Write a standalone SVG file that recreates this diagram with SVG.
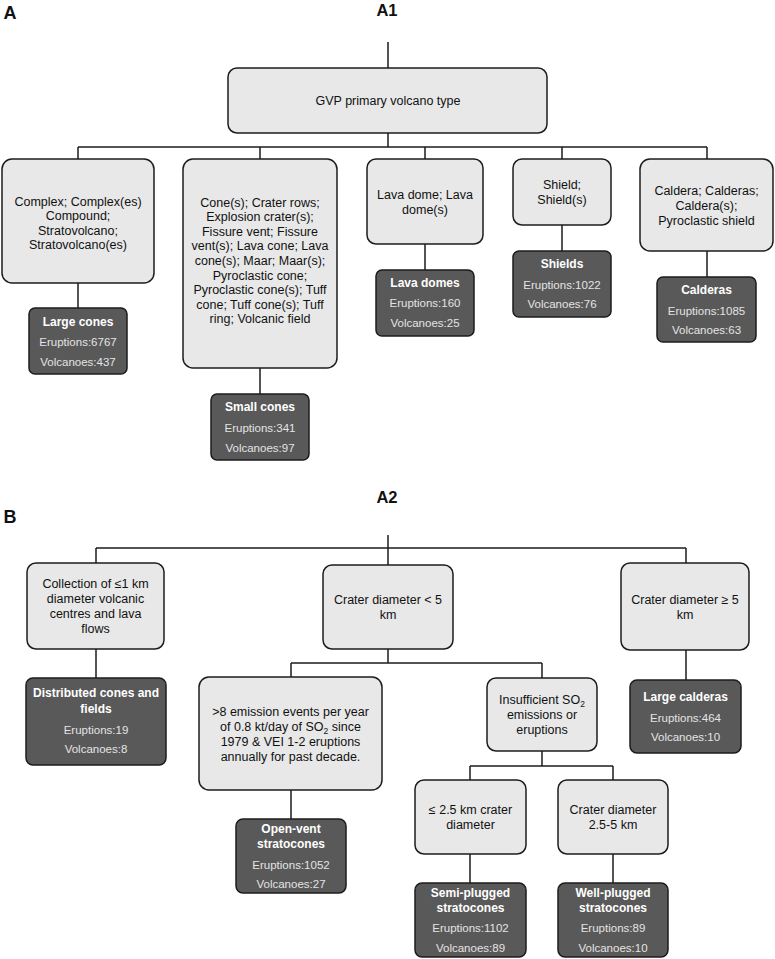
<svg xmlns="http://www.w3.org/2000/svg" width="775" height="959" viewBox="0 0 775 959">
<style>
.bg{fill:#ffffff}
.lb{fill:#e8e8e8;stroke:#1c1c1c;stroke-width:1.5}
.db{fill:#595959;stroke:#1c1c1c;stroke-width:1.5}
.lt{font-family:"Liberation Sans",Arial,sans-serif;font-size:12.5px;fill:#111;text-anchor:middle}
.tt{font-family:"Liberation Sans",Arial,sans-serif;font-size:12px;font-weight:bold;fill:#ffffff;text-anchor:middle}
.nt{font-family:"Liberation Sans",Arial,sans-serif;font-size:11.5px;fill:#e4e4e4;text-anchor:middle}
.hd{font-family:"Liberation Sans",Arial,sans-serif;font-weight:bold;fill:#111;text-anchor:middle}
.cn{stroke:#1c1c1c;stroke-width:1.5;fill:none}
</style>
<rect class="bg" x="0" y="0" width="775" height="959"/>
<g id="headers">
<text class="hd" x="10" y="19" font-size="18">A</text>
<text class="hd" x="387" y="16" font-size="16.5">A1</text>
<text class="hd" x="10" y="523" font-size="18">B</text>
<text class="hd" x="387" y="503" font-size="16.5">A2</text>
</g>
<g id="connectors">
<path class="cn" d="M388,42V68 M388,133V147 M78,147H707 M78,147V159 M260,147V159 M425,147V159 M562,147V159 M707,147V159"/>
<path class="cn" d="M78,283V308 M260,368V394 M425,244V270 M562,225V251 M707,251V277"/>
<path class="cn" d="M388,535V565 M96,548H686 M96,548V563 M686,548V563 M96,649V678 M686,650V680"/>
<path class="cn" d="M388,649V663 M291,663H542 M291,663V677 M542,663V678 M291,790V819"/>
<path class="cn" d="M542,751V766 M470,766H613 M470,766V780 M613,766V780 M470,854V883 M613,854V883"/>
</g>
<g id="root">
<rect class="lb" x="228" y="68" width="319" height="65" rx="9"/>
<text class="lt" x="388" y="104.5">GVP primary volcano type</text>
</g>
<g id="n-complex">
<rect class="lb" x="2" y="159" width="152" height="124" rx="10"/>
<text class="lt" x="78" y="205.5">Complex; Complex(es)</text>
<text class="lt" x="78" y="220">Compound;</text>
<text class="lt" x="78" y="234.5">Stratovolcano;</text>
<text class="lt" x="78" y="249">Stratovolcano(es)</text>
</g>
<g id="n-cone">
<rect class="lb" x="183" y="159" width="154" height="209" rx="10"/>
<text class="lt" x="260" y="206.5">Cone(s); Crater rows;</text>
<text class="lt" x="260" y="221.1">Explosion crater(s);</text>
<text class="lt" x="260" y="235.7">Fissure vent; Fissure</text>
<text class="lt" x="260" y="250.3">vent(s); Lava cone; Lava</text>
<text class="lt" x="260" y="264.9">cone(s); Maar; Maar(s);</text>
<text class="lt" x="260" y="279.5">Pyroclastic cone;</text>
<text class="lt" x="260" y="294.1">Pyroclastic cone(s); Tuff</text>
<text class="lt" x="260" y="308.7">cone; Tuff cone(s); Tuff</text>
<text class="lt" x="260" y="323.3">ring; Volcanic field</text>
</g>
<g id="n-lavadome">
<rect class="lb" x="367" y="159" width="116" height="85" rx="9"/>
<text class="lt" x="425" y="198.5">Lava dome; Lava</text>
<text class="lt" x="425" y="213.5">dome(s)</text>
</g>
<g id="n-shield">
<rect class="lb" x="513" y="159" width="98" height="66" rx="9"/>
<text class="lt" x="562" y="188.5">Shield;</text>
<text class="lt" x="562" y="203.5">Shield(s)</text>
</g>
<g id="n-caldera">
<rect class="lb" x="640" y="159" width="133" height="92" rx="10"/>
<text class="lt" x="706.5" y="194.5">Caldera; Calderas;</text>
<text class="lt" x="706.5" y="209.5">Caldera(s);</text>
<text class="lt" x="706.5" y="224.5">Pyroclastic shield</text>
</g>
<g id="r-largecones">
<rect class="db" x="29" y="308" width="98" height="66" rx="6"/>
<text class="tt" x="78" y="326.3">Large cones</text>
<text class="nt" x="78" y="346">Eruptions:6767</text>
<text class="nt" x="78" y="366">Volcanoes:437</text>
</g>
<g id="r-smallcones">
<rect class="db" x="211" y="394" width="98" height="66" rx="6"/>
<text class="tt" x="260" y="411.3">Small cones</text>
<text class="nt" x="260" y="432">Eruptions:341</text>
<text class="nt" x="260" y="452">Volcanoes:97</text>
</g>
<g id="r-lavadomes">
<rect class="db" x="376" y="270" width="98" height="66" rx="6"/>
<text class="tt" x="425" y="287.3">Lava domes</text>
<text class="nt" x="425" y="307">Eruptions:160</text>
<text class="nt" x="425" y="327">Volcanoes:25</text>
</g>
<g id="r-shields">
<rect class="db" x="513" y="251" width="98" height="66" rx="6"/>
<text class="tt" x="562" y="268.3">Shields</text>
<text class="nt" x="562" y="289">Eruptions:1022</text>
<text class="nt" x="562" y="308">Volcanoes:76</text>
</g>
<g id="r-calderas">
<rect class="db" x="657" y="277" width="99" height="65" rx="6"/>
<text class="tt" x="706.5" y="294.3">Calderas</text>
<text class="nt" x="706.5" y="315">Eruptions:1085</text>
<text class="nt" x="706.5" y="334">Volcanoes:63</text>
</g>
<g id="n-collection">
<rect class="lb" x="27" y="563" width="137" height="86" rx="9"/>
<text class="lt" x="95.5" y="587.5">Collection of ≤1 km</text>
<text class="lt" x="95.5" y="602.5">diameter volcanic</text>
<text class="lt" x="95.5" y="617.5">centres and lava</text>
<text class="lt" x="95.5" y="632.5">flows</text>
</g>
<g id="r-distributed">
<rect class="db" x="26" y="678" width="140" height="87" rx="7"/>
<text class="tt" x="96" y="697.3">Distributed cones and</text>
<text class="tt" x="96" y="713.3">fields</text>
<text class="nt" x="96" y="734">Eruptions:19</text>
<text class="nt" x="96" y="753">Volcanoes:8</text>
</g>
<g id="n-crater-lt5">
<rect class="lb" x="323" y="565" width="130" height="84" rx="9"/>
<text class="lt" x="388" y="604">Crater diameter &lt; 5</text>
<text class="lt" x="388" y="619">km</text>
</g>
<g id="n-crater-ge5">
<rect class="lb" x="621" y="563" width="128" height="87" rx="9"/>
<text class="lt" x="685" y="603.5">Crater diameter ≥ 5</text>
<text class="lt" x="685" y="618.5">km</text>
</g>
<g id="r-largecalderas">
<rect class="db" x="630" y="680" width="111" height="73" rx="7"/>
<text class="tt" x="685.5" y="701.3">Large calderas</text>
<text class="nt" x="685.5" y="722">Eruptions:464</text>
<text class="nt" x="685.5" y="741">Volcanoes:10</text>
</g>
<g id="n-emission">
<rect class="lb" x="199" y="677" width="183" height="113" rx="10"/>
<text class="lt" x="290.5" y="716">&gt;8 emission events per year</text>
<text class="lt" x="290.5" y="731">of 0.8 kt/day of SO<tspan font-size="8.5" dy="3">2</tspan><tspan dy="-3"> since</tspan></text>
<text class="lt" x="290.5" y="746">1979 &amp; VEI 1-2 eruptions</text>
<text class="lt" x="290.5" y="761">annually for past decade.</text>
</g>
<g id="r-openvent">
<rect class="db" x="236" y="819" width="110" height="74" rx="7"/>
<text class="tt" x="291" y="833.3">Open-vent</text>
<text class="tt" x="291" y="848.3">stratocones</text>
<text class="nt" x="291" y="869">Eruptions:1052</text>
<text class="nt" x="291" y="888">Volcanoes:27</text>
</g>
<g id="n-insufficient">
<rect class="lb" x="487" y="678" width="110" height="73" rx="9"/>
<text class="lt" x="542" y="703.5">Insufficient SO<tspan font-size="8.5" dy="3">2</tspan></text>
<text class="lt" x="542" y="718.5">emissions or</text>
<text class="lt" x="542" y="733.5">eruptions</text>
</g>
<g id="n-le25">
<rect class="lb" x="415" y="780" width="111" height="74" rx="9"/>
<text class="lt" x="470.5" y="813.5">≤ 2.5 km crater</text>
<text class="lt" x="470.5" y="828.5">diameter</text>
</g>
<g id="n-25-5">
<rect class="lb" x="558" y="780" width="110" height="74" rx="9"/>
<text class="lt" x="613" y="813.5">Crater diameter</text>
<text class="lt" x="613" y="828.5">2.5-5 km</text>
</g>
<g id="r-semiplugged">
<rect class="db" x="415" y="883" width="111" height="74" rx="7"/>
<text class="tt" x="470.5" y="897.3">Semi-plugged</text>
<text class="tt" x="470.5" y="912.3">stratocones</text>
<text class="nt" x="470.5" y="932">Eruptions:1102</text>
<text class="nt" x="470.5" y="952">Volcanoes:89</text>
</g>
<g id="r-wellplugged">
<rect class="db" x="558" y="883" width="110" height="74" rx="7"/>
<text class="tt" x="613" y="897.3">Well-plugged</text>
<text class="tt" x="613" y="912.3">stratocones</text>
<text class="nt" x="613" y="932">Eruptions:89</text>
<text class="nt" x="613" y="952">Volcanoes:10</text>
</g>
</svg>
